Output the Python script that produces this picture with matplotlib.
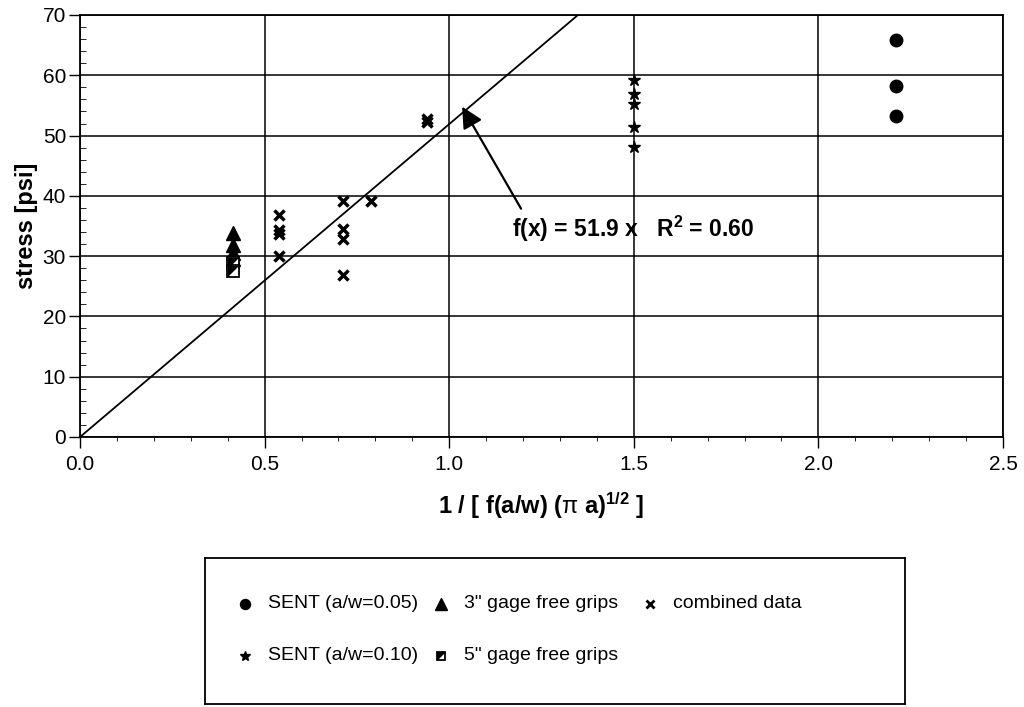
import numpy as np
import matplotlib.pyplot as plt
from matplotlib.ticker import MultipleLocator
from matplotlib.path import Path

plt.rcParams['font.family'] = ['Liberation Sans', 'DejaVu Sans']
plt.rcParams['mathtext.fontset'] = 'custom'
plt.rcParams['mathtext.rm'] = 'Liberation Sans'
plt.rcParams['mathtext.it'] = 'Liberation Sans'
plt.rcParams['mathtext.bf'] = 'Liberation Sans:bold'

# data
sent05_x = [2.21, 2.21, 2.21]
sent05_y = [65.8, 58.3, 53.3]

sent10_x = [1.5, 1.5, 1.5, 1.5, 1.5]
sent10_y = [59.2, 56.9, 55.2, 51.5, 48.1]

gage3_x = [0.415, 0.415, 0.415, 0.415]
gage3_y = [33.8, 31.8, 30.5, 29.5]

gage5_x = [0.415, 0.415]
gage5_y = [28.8, 27.6]

comb_x = [0.538, 0.538, 0.538, 0.538, 0.712, 0.712, 0.712, 0.712, 0.788, 0.94, 0.94]
comb_y = [36.8, 34.3, 33.6, 30.0, 39.1, 34.5, 32.8, 26.8, 39.1, 52.8, 52.2]

slope = 51.9
fit_label = 'f(x) = 51.9 x   R$^\\mathbf{2}$ = 0.60'

legend_labels = ['SENT (a/w=0.05)', 'SENT (a/w=0.10)', '3" gage free grips', '5" gage free grips', 'combined data']

fig = plt.figure(figsize=(10.24, 7.07), dpi=100)
ax = fig.add_axes([80/1024, 1 - 437/707, 923/1024, 422/707])

# fit line through origin
xl = np.array([0.0, 70.0 / slope])
ax.plot(xl, slope * xl, color='black', lw=1.3, zorder=2)

corner = Path([(-1, 1), (1, 1), (-1, -1), (-1, 1)],
              [Path.MOVETO, Path.LINETO, Path.LINETO, Path.CLOSEPOLY])


def style(kind, k=1.0):
    if kind == 'circle':
        return dict(marker='o', color='black', ms=9 * k)
    if kind == 'star':
        return dict(marker='*', color='black', ms=9 * k)
    if kind == 'tri':
        return dict(marker='^', color='black', ms=10 * k)
    if kind == 'sq':
        return dict(marker='s', mfc='white', mec='black', mew=1.3, ms=8 * k)
    if kind == 'corner':
        return dict(marker=corner, color='black', ms=8 * k, mew=0)
    return dict(marker='x', color='black', ms=7 * k, mew=2.5 * k)


ax.plot(sent05_x, sent05_y, ls='none', zorder=3, **style('circle'))
ax.plot(sent10_x, sent10_y, ls='none', zorder=3, **style('star'))
ax.plot(gage3_x, gage3_y, ls='none', zorder=3, **style('tri'))
ax.plot(gage5_x, gage5_y, ls='none', zorder=3, **style('sq'))
ax.plot(gage5_x, gage5_y, ls='none', zorder=4, **style('corner'))
ax.plot(comb_x, comb_y, ls='none', zorder=3, **style('x'))

ax.annotate(fit_label, xy=(1.035, 54.8), xytext=(1.17, 34.5), fontsize=16.5, fontweight='bold',
            va='center', ha='left',
            arrowprops=dict(arrowstyle='-|>', color='black', lw=1.6, mutation_scale=32,
                            shrinkA=2, shrinkB=0, relpos=(0.05, 1.0)))

ax.set_xlim(0, 2.5)
ax.set_ylim(0, 70)
ax.xaxis.set_major_locator(MultipleLocator(0.5))
ax.xaxis.set_minor_locator(MultipleLocator(0.1))
ax.yaxis.set_major_locator(MultipleLocator(10))
ax.yaxis.set_minor_locator(MultipleLocator(2))
ax.xaxis.set_major_formatter(plt.FormatStrFormatter('%.1f'))
ax.grid(True, which='major', color='black', lw=1.1)
ax.tick_params(which='major', direction='out', length=8, width=1, labelsize=15, colors='black')
ax.tick_params(axis='y', which='minor', direction='in', length=4)
ax.tick_params(axis='x', which='minor', direction='out', length=3)
ax.tick_params(axis='x', pad=5)
ax.tick_params(axis='y', pad=2)
for s in ax.spines.values():
    s.set_linewidth(1.3)

ax.set_ylabel('stress [psi]', fontsize=17, fontweight='bold')
ax.yaxis.set_label_coords(-0.046, 0.5)
ax.set_xlabel('1 / [ f(a/w) ($\\pi$ a)$^\\mathbf{1/2}$ ]', fontsize=17, fontweight='bold', labelpad=12)

# legend box drawn in its own axes, pixel-like units
lax = fig.add_axes([205/1024, 1 - 704/707, 700/1024, 146/707])
lax.set_xlim(0, 700)
lax.set_ylim(146, 0)
lax.set_xticks([])
lax.set_yticks([])
for s in lax.spines.values():
    s.set_linewidth(1.3)

entries = [('circle', 0), ('star', 1), ('tri', 2), ('sq', 3), ('x', 4)]
slot_x = [40, 40, 236, 236, 445]
slot_y = [46, 98, 46, 98, 46]
for (kind, i), sx, sy in zip(entries, slot_x, slot_y):
    lax.plot([sx], [sy], ls='none', **style(kind, 0.8))
    if kind == 'sq':
        lax.plot([sx], [sy], ls='none', **style('corner', 0.8))
    lax.text(sx + 23, sy, legend_labels[i], fontsize=14, va='center', ha='left')

fig.savefig('out.png', dpi=100)
